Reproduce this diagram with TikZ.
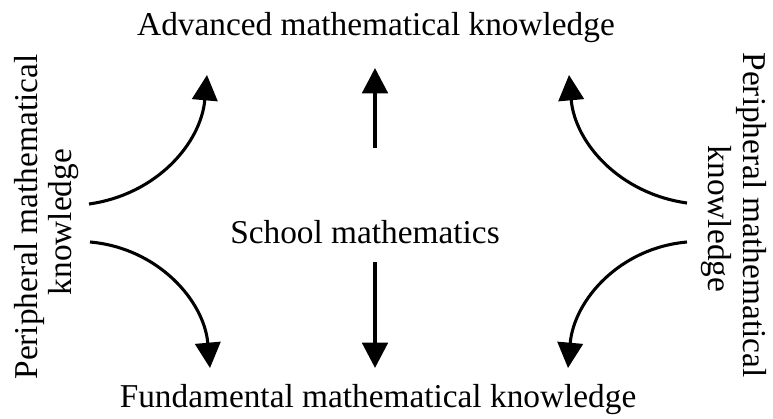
\documentclass[tikz,border=0pt]{standalone}
\usepackage{fontspec}
\setmainfont{Liberation Serif}
\usetikzlibrary{arrows.meta,positioning}

\begin{document}
\begin{tikzpicture}[x=0.75pt, y=-0.75pt,
    lbl/.style={font=\fontsize{25}{29}\selectfont, inner sep=0pt},
    ar/.style={-{Triangle[length=19pt, width=19pt]}, line width=2.3pt},
    bar/.style={ar, line width=3pt}
  ]
  \useasboundingbox (0,0) rectangle (773,418);

  \node[lbl] (adv) at (376,28) {Advanced mathematical knowledge};
  \node[lbl] (fund) at (378,400) {Fundamental mathematical knowledge};
  \node[lbl] (school) at (365,232) {School mathematics};
  \node[lbl, rotate=90] (periL) at (29,217) {Peripheral mathematical};
  \node[lbl, rotate=90] (periLk) at (64,222) {knowledge};
  \node[lbl, rotate=-90] (periR) at (752,215) {Peripheral mathematical};
  \node[lbl, rotate=-90] (periRk) at (716,219) {knowledge};

  % arrow ends
  \coordinate (upS) at (375,148);
  \coordinate (upE) at (375,68);
  \coordinate (dnS) at (375,262);
  \coordinate (dnE) at (375,368);
  \coordinate (ltS) at (89,204);
  \coordinate (ltE) at (207,75);
  \coordinate (lbS) at (90,242);
  \coordinate (lbE) at (210,368);
  \coordinate (rtS) at (687,203);
  \coordinate (rtE) at (569,75);
  \coordinate (rbS) at (687,242);
  \coordinate (rbE) at (568,368);

  \draw[bar] (upS) -- (upE);
  \draw[bar] (dnS) -- (dnE);
  \draw[ar] (ltS) to[out=8, in=-95] (ltE);
  \draw[ar] (lbS) to[out=-5, in=95] (lbE);
  \draw[ar] (rtS) to[out=172, in=-85] (rtE);
  \draw[ar] (rbS) to[out=-175, in=85] (rbE);
\end{tikzpicture}
\end{document}
